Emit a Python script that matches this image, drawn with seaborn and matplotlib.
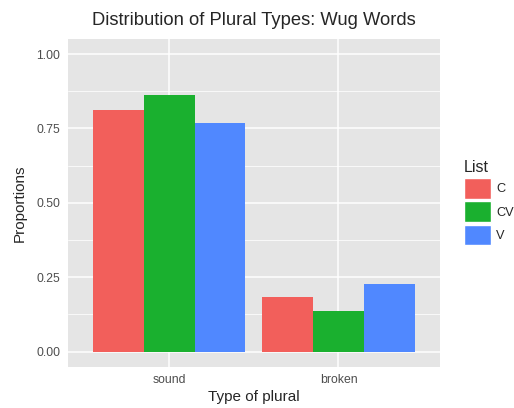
import seaborn as sns
import pandas as pd
import matplotlib.pyplot as plt
import matplotlib
from matplotlib.patches import Patch

plural_types = ["sound", "broken"]
lists = ["C", "CV", "V"]
sound_vals = [0.811, 0.861, 0.767]
broken_vals = [0.183, 0.136, 0.226]
y_ticks = [0.00, 0.25, 0.50, 0.75, 1.00]

colors = ["#F25F5B", "#1AB02F", "#5088FF"]

df = pd.DataFrame({
    "type": [t for t in plural_types for _ in lists],
    "List": lists * 2,
    "prop": sound_vals + broken_vals,
})

sns.set_style("darkgrid")
matplotlib.rcParams['font.family'] = ['Liberation Sans', 'DejaVu Sans']

fig = plt.figure(figsize=(5.14, 4.08), dpi=100)
ax = fig.add_axes([0.132, 0.1015, 0.724, 0.8025])

sns.barplot(ax=ax, data=df, x="type", y="prop", hue="List", order=plural_types,
            hue_order=lists, palette=colors, width=0.9, gap=0, saturation=1,
            linewidth=0, legend=False)

ax.set_facecolor("#E5E5E5")
ax.set_xlim(-0.6, 1.6)
ax.set_ylim(-0.05, 1.05)
ax.set_yticks(y_ticks)
ax.set_yticklabels([f"{v:.2f}" for v in y_ticks])
ax.set_yticks([0.125, 0.375, 0.625, 0.875], minor=True)
ax.grid(which="major", color="white", lw=1.1)
ax.grid(which="minor", axis="y", color="white", lw=0.55)
ax.set_axisbelow(True)
for s in ax.spines.values():
    s.set_visible(False)
ax.tick_params(which="major", length=3.5, color="#333333", labelcolor="#4D4D4D", labelsize=8.8, pad=2)
ax.tick_params(which="minor", length=0)

ax.set_xlabel("Type of plural", fontsize=11, labelpad=3)
ax.set_ylabel("Proportions", fontsize=11, labelpad=7)
ax.set_title("Distribution of Plural Types: Wug Words", fontsize=13.2, pad=10)

handles = [Patch(facecolor=c, edgecolor="white", label=l) for c, l in zip(colors, lists)]
leg = ax.legend(handles=handles, title="List", loc="center left", bbox_to_anchor=(1.04, 0.5),
                frameon=False, fontsize=9.2, title_fontsize=11.5, handlelength=2.1,
                handleheight=2.1, handletextpad=0.45, labelspacing=0.22, borderaxespad=0.3)
leg._legend_box.align = "left"

plt.savefig("out.png", dpi=100)
